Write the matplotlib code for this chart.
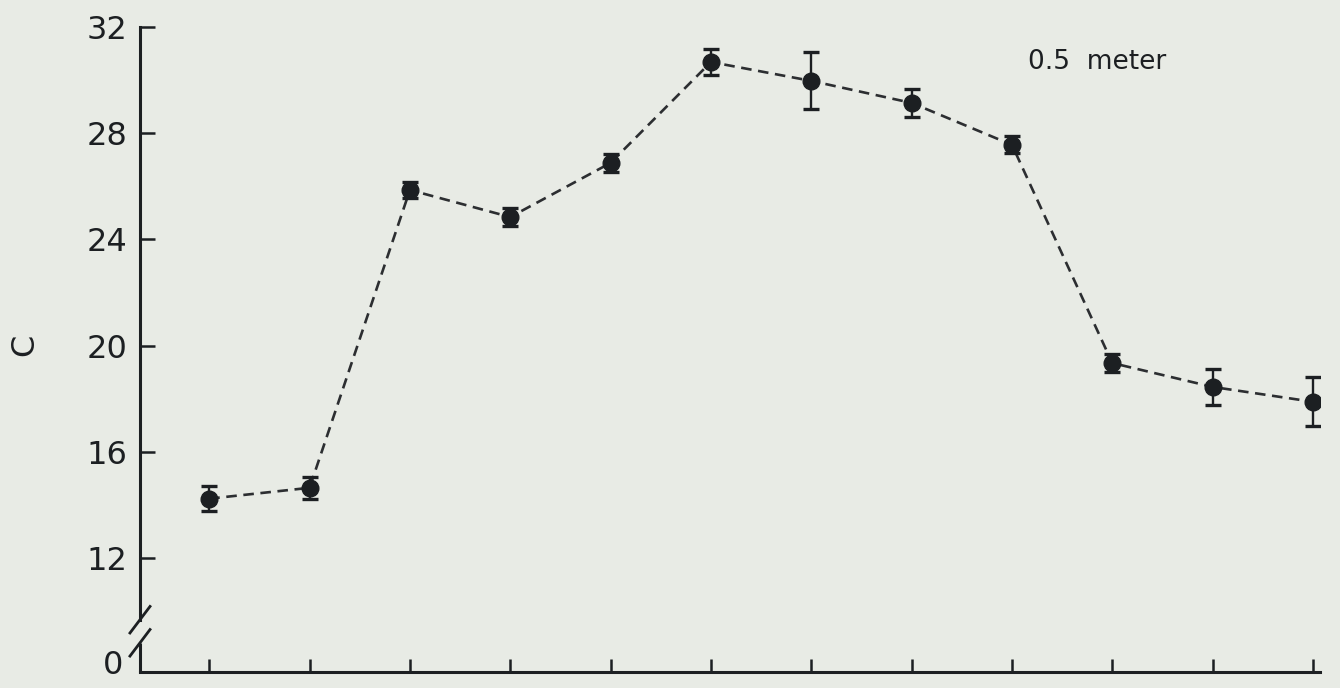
import matplotlib
matplotlib.use("Agg")
import matplotlib.pyplot as plt
from matplotlib.transforms import blended_transform_factory

# ---- data ----
positions = list(range(1, 13))
values = [14.23, 14.64, 25.86, 24.84, 26.88, 30.68, 29.97, 29.14, 27.56, 19.34, 18.44, 17.88]
errors = [0.47, 0.42, 0.30, 0.35, 0.35, 0.50, 1.07, 0.53, 0.32, 0.35, 0.68, 0.92]
ytick_vals = [12, 16, 20, 24, 28, 32]
ytick_labels = ["12", "16", "20", "24", "28", "32"]
zero_label = "0"
annotation = "0.5  meter"
ylabel = "C"

bg = "#e8ebe5"
ink = "#1c1f22"

plt.rcParams['font.family'] = ['DejaVu Sans']
fig = plt.figure(figsize=(13.4, 6.88), dpi=100, facecolor=bg)
W, H = 1340, 688
left_px, right_px, top_px, bot_px = 140, 1320, 27, 672
ax = fig.add_axes([left_px / W, 1 - bot_px / H, (right_px - left_px) / W, (bot_px - top_px) / H])
ax.set_facecolor(bg)

y_bottom = 7.7
ax.set_ylim(y_bottom, 32)
ax.set_xlim(0.31, 12.07)

ax.plot(positions, values, linestyle=(0, (4, 2.5)), color="#2c2e31", lw=1.9, zorder=2)
ax.errorbar(positions, values, yerr=errors, fmt='o', color=ink, ms=12,
            ecolor=ink, elinewidth=1.7, capsize=6, capthick=2.4, zorder=3)

# spines
for s in ("top", "right"):
    ax.spines[s].set_visible(False)
for s in ("left", "bottom"):
    ax.spines[s].set_linewidth(2.2)
    ax.spines[s].set_color(ink)

brk_hi, brk_lo = 9.67, 8.80
ax.spines['left'].set_bounds(brk_hi, 32)
bt = blended_transform_factory(ax.transAxes, ax.transData)
ax.plot([0, 0], [y_bottom, brk_lo], transform=bt, color=ink, lw=2.2,
        clip_on=False, solid_capstyle='butt')
dx = 0.0085
dy = 0.5
for yc in (brk_hi, brk_lo):
    ax.plot([-dx, dx], [yc - dy, yc + dy], transform=bt, color=ink, lw=2.0, clip_on=False)

ax.set_yticks(ytick_vals)
ax.set_yticklabels(ytick_labels)
ax.set_xticks(positions)
ax.set_xticklabels([""] * len(positions))
ax.tick_params(axis='y', direction='in', length=11, width=1.8, color=ink,
               labelsize=23, pad=9, labelcolor=ink)
ax.tick_params(axis='x', direction='in', length=9.5, width=1.8, color=ink)

# "0" label at the axis origin (broken axis)
fig.text(123 / W, 1 - 666 / H, zero_label, fontsize=23, color=ink,
         ha='right', va='center')

fig.text(25 / W, 1 - 345 / H, ylabel, rotation=90, fontsize=23, color=ink,
         ha='center', va='center')
fig.text(1028 / W, 1 - 62 / H, annotation, fontsize=19, color=ink,
         ha='left', va='center')

fig.savefig("out.png", dpi=100, facecolor=bg)
